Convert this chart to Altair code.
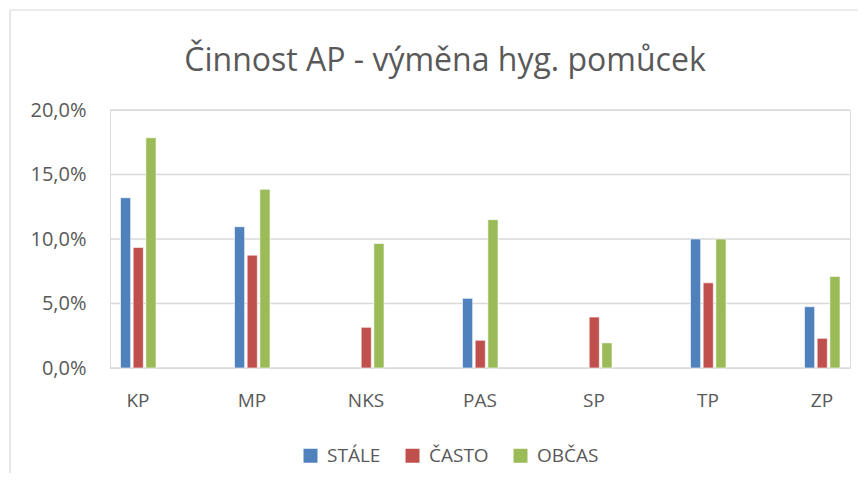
import altair as alt
import pandas as pd

title_text = ["Činnost AP - výměna hyg. pomůcek"]
categories = ["KP", "MP", "NKS", "PAS", "SP", "TP", "ZP"]
series = ["STÁLE", "ČASTO", "OBČAS"]
stale = [13.2, 10.95, None, 5.4, None, 10.0, 4.75]
casto = [9.35, 8.75, 3.15, 2.15, 3.95, 6.6, 2.3]
obcas = [17.85, 13.85, 9.65, 11.5, 1.95, 10.0, 7.1]
colors = ["#4F81BD", "#C0504D", "#9BBB59"]
y_ticks = [0, 5, 10, 15, 20]

rows = []
for s, vals in zip(series, [stale, casto, obcas]):
    for c, v in zip(categories, vals):
        if v is not None:
            rows.append({"cat": c, "series": s, "value": v})
df = pd.DataFrame(rows)
grid_df = pd.DataFrame({"value": y_ticks})
title_df = pd.DataFrame({"t": title_text})

TXT = "#595959"
FONT = "Open Sans"
yscale = alt.Scale(domain=[0, 20])
yaxis = alt.Axis(title=None, values=y_ticks, domain=False, ticks=False,
                 grid=False, labelPadding=24, labelFontSize=20,
                 labelColor=TXT, labelFont=FONT,
                 labelExpr="replace(format(datum.value, '.1f'), '.', ',') + '%'")

grid = alt.Chart(grid_df).mark_rule(color="#D9D9D9", strokeWidth=1.3).encode(
    y=alt.Y("value:Q", scale=yscale, axis=yaxis),
    x=alt.value(0), x2=alt.value(740))

bars = alt.Chart(df).mark_bar(stroke="white", strokeWidth=0.6).encode(
    x=alt.X("cat:N", sort=categories,
            scale=alt.Scale(range=[-29, 769], paddingInner=0, paddingOuter=0),
            axis=alt.Axis(title=None, labelAngle=0, domain=False, ticks=False,
                          grid=False, labelPadding=23, labelFontSize=19,
                          labelColor=TXT, labelFont=FONT)),
    xOffset=alt.XOffset("series:N", sort=series,
                        scale=alt.Scale(range=[39.5, 75], paddingInner=0.2, paddingOuter=0)),
    y=alt.Y("value:Q", scale=yscale, axis=yaxis),
    color=alt.Color("series:N", sort=series,
                    scale=alt.Scale(domain=series, range=colors),
                    legend=alt.Legend(orient="none", legendX=191, legendY=336,
                                      direction="horizontal", title=None,
                                      symbolType="square", symbolSize=196,
                                      symbolStrokeWidth=0, labelFontSize=19,
                                      labelColor=TXT, labelFont=FONT,
                                      columnPadding=22, labelOffset=7)),
)

frame_df = pd.DataFrame({"k": [0]})
left_line = alt.Chart(frame_df).mark_rule(color="#D9D9D9", strokeWidth=1.2, clip=False).encode(
    x=alt.value(-100), y=alt.value(-100), y2=alt.value(370))
top_line = alt.Chart(frame_df).mark_rule(color="#D9D9D9", strokeWidth=1.2, clip=False).encode(
    x=alt.value(-100), x2=alt.value(800), y=alt.value(-100))

title = alt.Chart(title_df).mark_text(
    font=FONT, fontSize=32, color=TXT, align="center", baseline="alphabetic"
).encode(text="t:N", x=alt.value(335), y=alt.value(-39))

chart = alt.layer(left_line, top_line, grid, bars, title).properties(
    width=740, height=258,
    autosize=alt.AutoSizeParams(type="none"),
    padding={"left": 102, "top": 102, "right": 8, "bottom": 105},
).configure_view(stroke=None).configure(background="white")

chart.save("out.html", embed_options={"renderer": "svg", "actions": False})
